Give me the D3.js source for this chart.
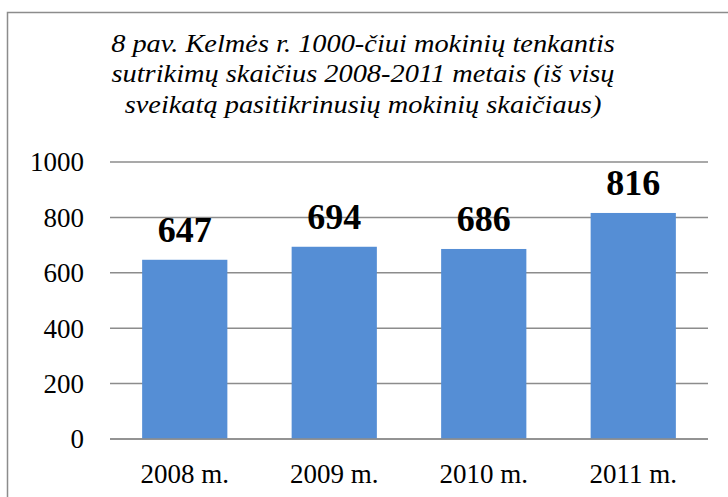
<!DOCTYPE html>
<html>
<head>
<meta charset="utf-8">
<script src="https://cdn.jsdelivr.net/npm/d3@7"></script>
<style>
  html, body { margin: 0; padding: 0; background: #fff; }
  svg { display: block; }
  text { font-family: "Liberation Serif", "Times New Roman", serif; fill: #000; }
</style>
</head>
<body>
<script>
const titleLines = [
  "8 pav. Kelmės r. 1000-čiui mokinių tenkantis",
  "sutrikimų skaičius 2008-2011 metais (iš visų",
  "sveikatą pasitikrinusių mokinių skaičiaus)"
];
const categories = ["2008 m.", "2009 m.", "2010 m.", "2011 m."];
const values = [647, 694, 686, 816];
const yTicks = [0, 200, 400, 600, 800, 1000];

const W = 728, H = 497;
const svg = d3.select("body").append("svg").attr("width", W).attr("height", H);

svg.append("rect").attr("x", 0).attr("y", 0).attr("width", W).attr("height", H).attr("fill", "#fff");

// chart border
svg.append("rect")
  .attr("x", 7.5).attr("y", 12.5).attr("width", W + 10).attr("height", H + 10)
  .attr("fill", "none").attr("stroke", "#8c8c8c").attr("stroke-width", 1.5);

// title (horizontally stretched like the reference)
const title = svg.append("g").attr("transform", "translate(363,0) scale(1.135,1)")
  .append("text")
  .attr("text-anchor", "middle")
  .attr("font-style", "italic")
  .attr("font-size", 25);
titleLines.forEach((l, i) => {
  title.append("tspan").attr("x", 0).attr("y", 52 + i * 30.5).text(l);
});

const x = d3.scaleBand().domain(categories).range([110, 708]).paddingInner(0.43).paddingOuter(0.215);
const y = d3.scaleLinear().domain([0, 1000]).range([439, 162]);

// gridlines
svg.append("g").selectAll("line").data(yTicks).join("line")
  .attr("x1", 110).attr("x2", 708)
  .attr("y1", d => y(d)).attr("y2", d => y(d))
  .attr("stroke", "#8c8c8c").attr("stroke-width", 1.5);

// y axis labels
const yAxis = d3.axisLeft(y).tickValues(yTicks).tickSize(0).tickPadding(0).tickFormat(d3.format("d"));
const yg = svg.append("g").attr("transform", "translate(84,0)").call(yAxis);
yg.select(".domain").remove();
yg.selectAll("text").attr("font-size", 27).attr("font-family", "Liberation Serif").attr("fill", "#000").attr("dy", "0.33em");

// bars
svg.append("g").selectAll("rect").data(values).join("rect")
  .attr("x", (d, i) => x(categories[i]))
  .attr("width", x.bandwidth())
  .attr("y", d => y(d))
  .attr("height", d => y(0) - y(d))
  .attr("fill", "#558ed5");

// redraw baseline on top
svg.append("line").attr("x1", 110).attr("x2", 708).attr("y1", y(0)).attr("y2", y(0))
  .attr("stroke", "#8c8c8c").attr("stroke-width", 1.5);

// value labels
svg.append("g").selectAll("text").data(values).join("text")
  .attr("x", (d, i) => x(categories[i]) + x.bandwidth() / 2)
  .attr("y", d => y(d) - 18)
  .attr("text-anchor", "middle")
  .attr("font-weight", "bold")
  .attr("font-size", 36)
  .text(d => d);

// x axis labels
const xAxis = d3.axisBottom(x).tickSize(0).tickPadding(0);
const xg = svg.append("g").attr("transform", "translate(0,483)").call(xAxis);
xg.select(".domain").remove();
xg.selectAll("text").attr("font-size", 27).attr("font-family", "Liberation Serif").attr("fill", "#000").attr("dy", 0);
</script>
</body>
</html>
